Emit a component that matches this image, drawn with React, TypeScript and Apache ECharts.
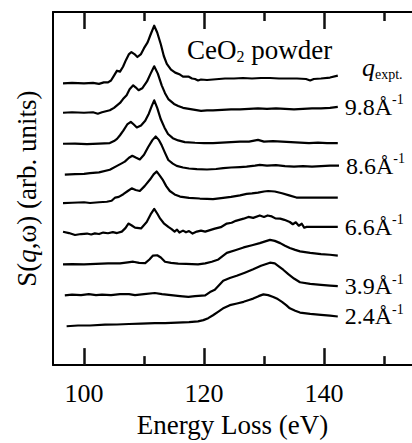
import React, { useEffect, useRef } from "react";
import * as echarts from "echarts";

// Energy loss (eV) vs. S(q,w) stacked spectra (arbitrary units, offsets included)
const curve1: [number, number][] = [[96.5,288],[98,288.5],[100,288],[101.5,288.5],[102.5,287.5],[103.3,289],[104,289],[104.5,291],[105,296],[105.5,301],[106,300],[106.5,305],[107,312],[107.5,318],[107.9,320],[108.4,318],[108.9,315],[109.5,318],[110,324],[110.6,330],[111.1,338],[111.7,347],[112.2,340],[112.8,328],[113.3,316],[113.8,308],[114.5,302],[115.2,299],[116,297],[116.5,295],[117.4,295],[118,293],[118.5,292.5],[119,291],[119.5,292],[120.5,291.5],[121.5,292],[122.5,292.5],[123.5,293],[125,293],[126.5,293.5],[128,293],[129.5,293.5],[131,293.5],[132.5,293],[134,293],[135.5,293],[137,292.5],[137.7,291],[138.3,292.5],[139.5,293],[141,294],[142.3,296]];
const curve2: [number, number][] = [[96.5,258],[98,258.5],[100,258],[101.5,258.5],[102.3,257],[103,258.5],[104.3,260.5],[105,263],[106,268],[106.5,272],[107.1,276],[107.6,282],[108.2,286],[108.6,284],[109.1,281],[109.7,283],[110.5,290],[111.1,298],[111.7,305.5],[112.3,298],[112.95,286],[113.5,278],[114.05,272],[115,267],[115.7,265],[116.5,263],[117.5,262],[118.5,261],[119.5,260],[120.5,260.5],[121.5,260.5],[123,261],[124.5,261.5],[126,261.5],[127.5,262],[129,262.5],[130.5,262],[132,262.5],[133.5,262],[135,261.5],[136.5,262],[138,262.5],[139.5,262.5],[141,263],[142.3,264]];
const curve3: [number, number][] = [[96.5,226.3],[98.5,226.5],[100.5,226],[102.5,226.5],[104.3,227],[105,229],[105.5,231.3],[106,235],[106.55,239.7],[107.2,246],[107.8,248.7],[108.3,246],[108.8,243],[109.5,245],[110.2,249.7],[110.8,257],[111.3,265],[111.7,270.7],[112.2,263],[112.8,251.3],[113.4,243],[114,236.3],[114.8,232],[115.7,229.7],[116.8,228],[118.5,227.3],[120,227],[121.5,227],[123,227.5],[124.5,228],[126,228.5],[127.5,228.5],[129,230.3],[130,228.5],[131.5,229],[133,228.5],[134.5,228],[136,227.5],[137.5,227],[139,227.5],[140.5,227],[142.3,227]];
const curve4: [number, number][] = [[96.8,194.7],[98.5,195.2],[100,195.5],[101,196.3],[102.5,197],[104.3,199.7],[105.5,203.7],[106.2,206],[106.8,208],[107.5,212],[108.05,214],[108.7,212],[109.3,210.3],[110,215],[110.7,223],[111.4,230],[111.95,233.7],[112.5,230],[112.95,224.7],[113.5,217],[114.05,209.7],[114.8,206],[115.45,203.7],[116.5,202],[117.5,201],[118.8,200.3],[120.5,200],[122,200.5],[123.2,201.3],[124.5,202],[126,202.5],[127.1,203],[128.5,204],[129.3,204.7],[130.5,204],[132,204.5],[133.5,203.5],[135,203],[136.5,203.5],[138,203],[139.5,203.5],[141,204],[142.5,204]];
const curve5: [number, number][] = [[96.5,165.7],[98,166],[100,166.5],[101,165.7],[102.5,166.5],[103.8,167],[104.6,168],[105.2,171.3],[105.8,172],[106.55,174.7],[107.3,178],[107.95,180.7],[108.6,179],[109.3,178],[110.1,183],[111,189.7],[111.6,195],[112.1,198],[112.6,194],[113.1,189.7],[113.7,183],[114.3,178],[115.1,174.5],[116,172.3],[117.5,171],[119.3,170.3],[120.5,170],[121.5,169.7],[123.2,171],[124.5,172],[126,173.5],[127.1,175],[128,175.5],[129,176.3],[130,177.5],[130.7,178],[131.8,177.5],[133,175.7],[134.2,173.5],[135.4,171.3],[137,171.3],[139,171.3],[141,171.3],[142.3,171.3]];
const curve6: [number, number][] = [[96.5,136.3],[97.5,135],[98.5,133],[99.5,134],[100.5,134.5],[101.2,133.5],[101.8,134.7],[102.5,134],[103.2,135.5],[104,134.8],[104.8,136],[105.5,135],[106.3,136.5],[106.9,140],[107.4,144.7],[107.9,143],[108.5,140.5],[109.5,139.7],[110.45,146.3],[111.1,154],[111.7,159.7],[112.2,155],[112.7,149.7],[113.3,145],[114.05,141.3],[114.6,139],[115.1,136.5],[115.5,138.5],[115.9,135.5],[116.5,137.5],[117,135.8],[117.5,137],[118.1,134.5],[118.8,136.5],[119.5,137.5],[120.2,136.5],[121,138],[121.8,139.5],[122.8,141],[123.8,144.7],[124.6,145.5],[125.3,147.5],[126.6,149.7],[127.4,151.5],[128.2,150.5],[129.3,153],[130,151.5],[130.6,153],[131.3,152],[131.9,150],[132.7,149.7],[133.4,148.5],[134.3,146.3],[134.8,144],[135.3,146],[135.8,142.5],[136.3,144.5],[136.7,140.5],[137.1,141.3],[138.5,141.3],[140,141.3],[142.3,141.3]];
const curve7: [number, number][] = [[96.5,103],[98,103.3],[100,103],[102,103.5],[104,104],[106,104],[107.3,105],[108.2,105.7],[109.2,104.5],[110.2,104.3],[110.9,108],[111.5,112],[112.2,112.3],[112.8,110],[113.5,105.7],[114.5,104.5],[115.7,103.7],[117,103.5],[119,103],[120.2,104],[121.3,105.7],[122.4,108],[123.8,114.7],[125.2,117.5],[126.6,120.3],[128,122.5],[129.3,124.7],[130.2,126.5],[131,128],[131.8,127],[132.7,124.7],[133.5,122],[134.3,119.7],[135.2,117.8],[136,116.3],[137.7,114.7],[139.5,113.5],[141,112.8],[142.3,112]];
const curve8: [number, number][] = [[96.8,71.3],[98,72],[99.5,71.5],[100.8,72.5],[102,71.5],[103,72],[104.5,71.5],[106,72.5],[107.5,72.5],[108.5,71.5],[110,72.5],[111.8,73.7],[113,72.5],[114.5,71.5],[116,70.5],[117.4,69.7],[118.5,70.5],[120.2,71.3],[121,74.7],[121.8,77],[123.2,86.3],[124.3,89],[125.45,91.3],[126.8,94.5],[128.2,98],[129.5,101.5],[131,104.7],[131.8,104],[132.4,101.3],[133.2,97.5],[134.05,93],[135,88.5],[136,84.7],[137.7,83],[139.5,82],[141,81.3],[142.3,80.7]];
const curve9: [number, number][] = [[97.1,39.7],[99,40.5],[101,40.5],[103.5,41.3],[105.5,41.5],[107.5,42],[109.5,42.5],[111.8,43],[113.5,43],[115.5,43.5],[117.5,44],[119,44.7],[119.9,46],[120.7,48],[121.5,51],[122.4,54.7],[123.3,58.5],[124.3,61.3],[125.5,63],[126.6,64.7],[127.5,66.5],[128.2,68],[129.1,70.5],[129.9,72.3],[130.7,71.5],[131.55,69.7],[132.3,67.5],[133,64.7],[133.7,61.3],[134.3,58],[135.2,55.5],[136,53.7],[137.7,52.3],[139.5,51.3],[141,50.5],[142.3,49.7]];

const curves = [curve1, curve2, curve3, curve4, curve5, curve6, curve7, curve8, curve9];
const qLabels: (string | null)[] = [null, "9.8", null, "8.6", null, "6.6", null, "3.9", "2.4"];

const majorTicks = [100, 120, 140];
const minorTicks = [110, 130, 150];
const xMin = 94.83;
const xMax = 154.67;
const yMin = 0;
const yMax = 361;

const FONT = "'Liberation Serif', 'Times New Roman', Times, serif";

export default function App() {
  const ref = useRef<HTMLDivElement>(null);
  useEffect(() => {
    document.body.style.margin = "0";
    if (!ref.current) return;
    const chart = echarts.init(ref.current, null, { renderer: "svg" });
    const lineW = 2;
    const tickW = 2.5;
    const majorLen = 17;
    const minorLen = 9;
    const labelRich = {
      n: { fontFamily: FONT, fontSize: 24, lineHeight: 28, color: "#000", verticalAlign: "middle" },
      s: { fontFamily: FONT, fontSize: 14, lineHeight: 22, color: "#000", verticalAlign: "top" },
    };
    const tickAxis = (position: string, values: number[], len: number, showLine: boolean) => ({
      type: "value",
      min: xMin,
      max: xMax,
      position,
      splitLine: { show: false },
      axisLine: { show: showLine, onZero: false, lineStyle: { color: "#000", width: lineW } },
      axisTick: { show: true, inside: true, length: len, customValues: values, lineStyle: { color: "#111", width: tickW } },
      axisLabel: { show: false },
    });

    const option: any = {
      animation: false,
      grid: { left: 53, right: 0, top: 12, bottom: 70 },
      xAxis: [
        {
          type: "value",
          min: xMin,
          max: xMax,
          position: "bottom",
          splitLine: { show: false },
          axisLine: { show: true, onZero: false, lineStyle: { color: "#000", width: lineW } },
          axisTick: { show: true, inside: true, length: majorLen, customValues: majorTicks, lineStyle: { color: "#111", width: tickW } },
          axisLabel: { show: true, customValues: majorTicks, fontFamily: FONT, fontSize: 26, color: "#000", margin: 15 },
          name: "Energy Loss (eV)",
          nameLocation: "middle",
          nameGap: 41,
          nameTextStyle: { fontFamily: FONT, fontSize: 27, color: "#000" },
        },
        tickAxis("bottom", minorTicks, minorLen, false),
        tickAxis("top", majorTicks, majorLen, true),
        tickAxis("top", minorTicks, minorLen, false),
      ],
      yAxis: {
        type: "value",
        min: yMin,
        max: yMax,
        axisLine: { show: true, onZero: false, lineStyle: { color: "#000", width: lineW } },
        axisTick: { show: false },
        axisLabel: { show: false },
        splitLine: { show: false },
        name: "{a|S(}{i|q}{a|,ω) (arb. units)}",
        nameLocation: "middle",
        nameRotate: 90,
        nameGap: 13,
        nameTextStyle: {
          fontFamily: FONT,
          fontSize: 27,
          color: "#000",
          rich: {
            a: { fontFamily: FONT, fontSize: 27, color: "#000" },
            i: { fontFamily: FONT, fontSize: 27, color: "#000", fontStyle: "italic" },
          },
        },
      },
      series: [
        ...curves.map((c, i) => ({
          type: "line",
          xAxisIndex: 0,
          yAxisIndex: 0,
          data: c,
          showSymbol: false,
          lineStyle: { color: "#000", width: 2.2, join: "round" },
          endLabel: qLabels[i]
            ? {
                show: true,
                formatter: `{n|${qLabels[i]}Å}{s|-1}`,
                distance: 7,
                rich: labelRich,
              }
            : { show: false },
        })),
      ],
      graphic: [
        {
          type: "text",
          left: 187,
          top: 36,
          style: {
            text: "{a|CeO}{b|2}{a| powder}",
            rich: {
              a: { fontFamily: FONT, fontSize: 27, lineHeight: 30, fill: "#000", verticalAlign: "middle" },
              b: { fontFamily: FONT, fontSize: 16, lineHeight: 16, fill: "#000", verticalAlign: "bottom" },
            },
          },
        },
        {
          type: "text",
          left: 362,
          top: 54,
          style: {
            text: "{q|q}{e|expt.}",
            rich: {
              q: { fontFamily: FONT, fontSize: 26, lineHeight: 28, fill: "#000", fontStyle: "italic", verticalAlign: "middle" },
              e: { fontFamily: FONT, fontSize: 14, lineHeight: 14, fill: "#000", verticalAlign: "bottom" },
            },
          },
        },
      ],
    };
    chart.setOption(option);
    return () => chart.dispose();
  }, []);
  return <div ref={ref} style={{ width: 412, height: 443 }} />;
}
